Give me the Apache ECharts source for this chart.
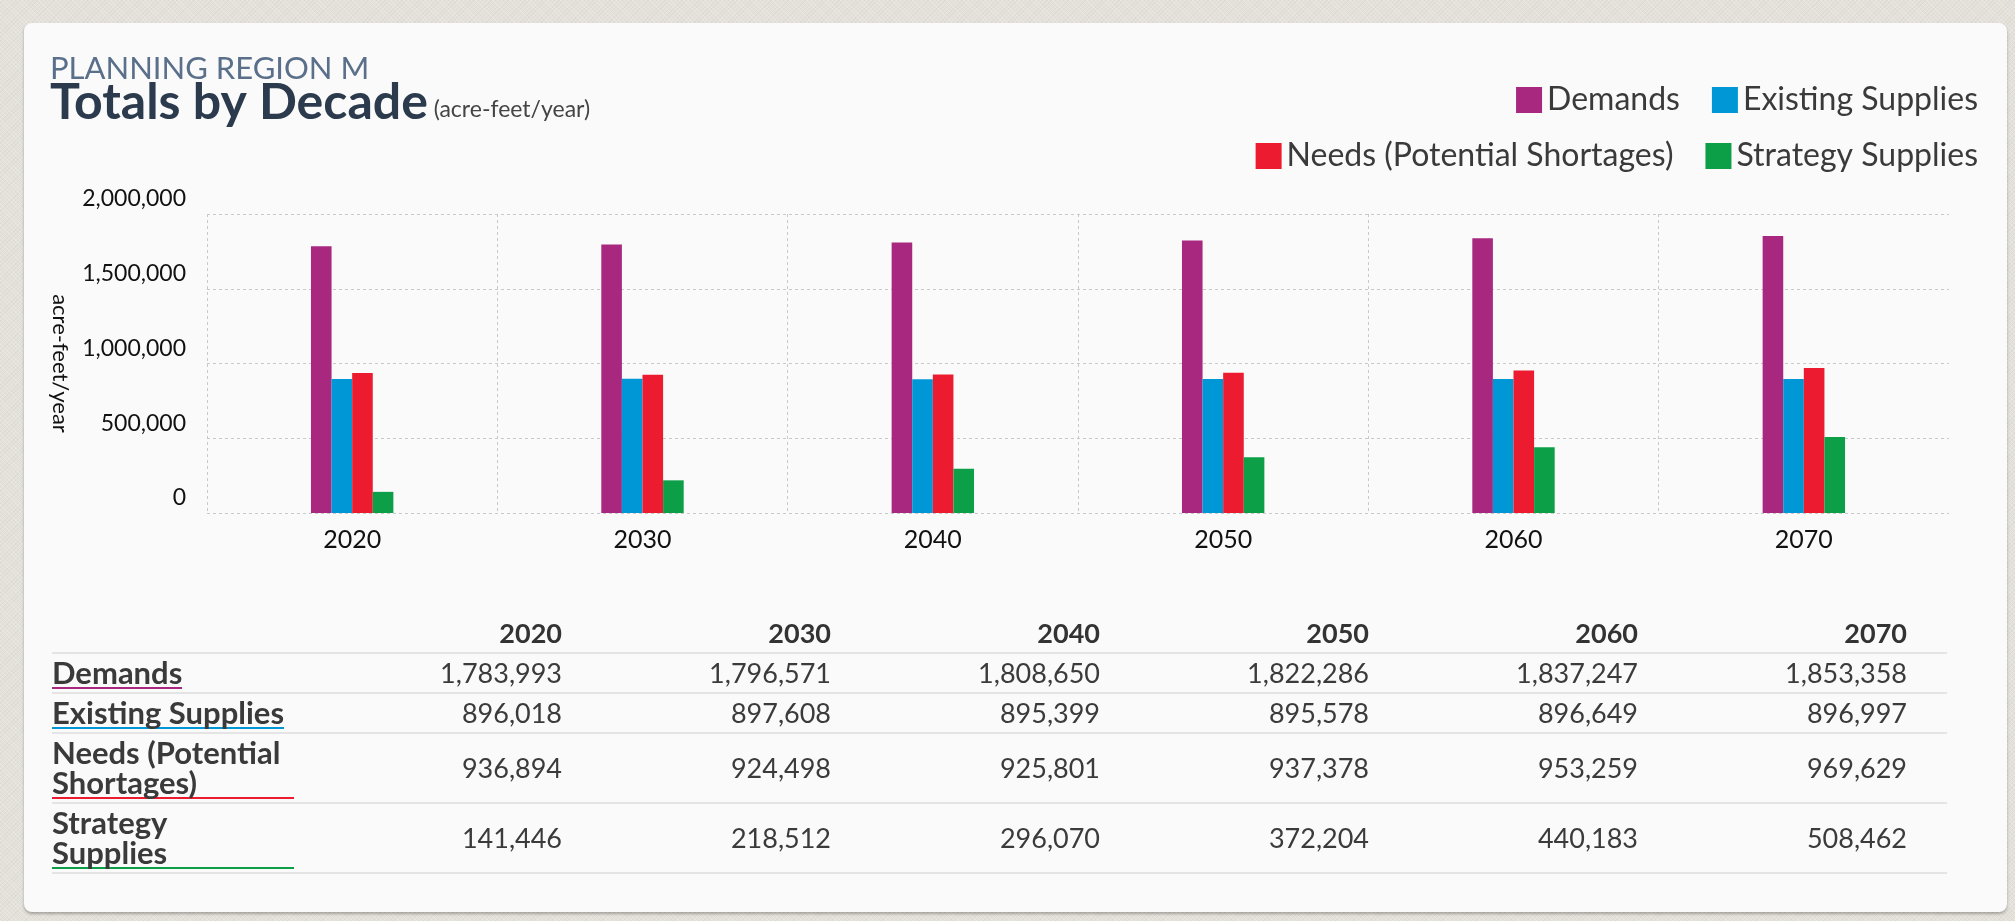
<!DOCTYPE html>
<html>
<head>
<meta charset="utf-8">
<script src="https://cdn.jsdelivr.net/npm/echarts@6/dist/echarts.min.js"></script>
<style>
  html, body { margin: 0; padding: 0; width: 2015px; height: 921px; overflow: hidden; }
  body {
    background-color: #e4e1da;
    background-image:
      repeating-linear-gradient(45deg, rgba(255,255,255,0.18) 0 1px, transparent 1px 3px),
      repeating-linear-gradient(-45deg, rgba(0,0,0,0.03) 0 1px, transparent 1px 3px);
    font-family: Lato, "Open Sans", sans-serif;
  }
  #card {
    position: absolute; left: 24px; top: 23px; width: 1983px; height: 889px;
    background: #fafafa; border-radius: 8px;
    box-shadow: 0 2px 3px rgba(0,0,0,0.28);
  }
  #chart { position: absolute; left: 0; top: 0; width: 2015px; height: 921px; }
  #tbl {
    position: absolute; left: 52px; top: 614px;
    border-collapse: collapse; color: #3b3b3b; font-family: Lato, sans-serif;
  }
  #tbl th, #tbl td { padding: 0; border-bottom: 2px solid #e4e4e4; }
  #tbl th { font-weight: bold; font-size: 27px; line-height: 30px; padding: 4px 40px 4px 0; text-align: right; color: #333; }
  #tbl th.lab { width: 281px; padding-right: 0; }
  #tbl td { font-size: 27px; line-height: 30px; text-align: right; padding: 3px 40px 3px 0; width: 229px; vertical-align: middle; }
  #tbl td.lab { text-align: left; padding-right: 0; width: 281px; }
  #tbl td.lab span {
    display: inline-block; font-weight: bold; font-size: 31px; line-height: 30px;
    white-space: pre-line; border-bottom: 2px solid #000; color: #3a3a3a;
  }
  #tbl td.lab span.wide { width: 242px; }
</style>
</head>
<body>
<div id="card"></div>
<div id="chart"></div>
<table id="tbl"></table>
<script>
// ---- data ----
const categories = ['2020', '2030', '2040', '2050', '2060', '2070'];
const seriesNames = ['Demands', 'Existing Supplies', 'Needs (Potential Shortages)', 'Strategy Supplies'];
const tableLabels = ['Demands', 'Existing Supplies', 'Needs (Potential\nShortages)', 'Strategy\nSupplies'];
const demands = [1783993, 1796571, 1808650, 1822286, 1837247, 1853358];
const existingSupplies = [896018, 897608, 895399, 895578, 896649, 896997];
const needs = [936894, 924498, 925801, 937378, 953259, 969629];
const strategySupplies = [141446, 218512, 296070, 372204, 440183, 508462];
const yMin = 0;
const yMax = 2000000;
const yInterval = 500000;
const colors = ['#a9287f', '#0097d6', '#ed1b2f', '#0c9f48'];

const allValues = [demands, existingSupplies, needs, strategySupplies];
const fmt = v => v.toLocaleString('en-US');

// ---- table ----
(function buildTable() {
  const t = document.getElementById('tbl');
  let html = '<tr><th class="lab"></th>' + categories.map(c => '<th>' + c + '</th>').join('') + '</tr>';
  tableLabels.forEach((lab, i) => {
    const cls = lab.indexOf('\n') >= 0 ? 'wide' : '';
    html += '<tr><td class="lab"><span class="' + cls + '" style="border-bottom-color:' + colors[i] + '">' + lab + '</span></td>' +
      allValues[i].map(v => '<td>' + fmt(v) + '</td>').join('') + '</tr>';
  });
  t.innerHTML = html;
})();

// ---- chart ----
const chart = echarts.init(document.getElementById('chart'), null, { renderer: 'canvas' });
const dash = { color: '#c9c9c9', width: 1, type: [3, 3] };
const option = {
  backgroundColor: 'transparent',
  animation: false,
  textStyle: { fontFamily: 'Lato' },
  title: [
    {
      text: 'PLANNING REGION M',
      left: 50, top: 53, padding: 0,
      textStyle: { fontFamily: 'Lato', fontSize: 31, fontWeight: 'normal', color: '#5a6f8a', lineHeight: 31 }
    },
    {
      text: '{b|Totals by Decade}{c| (acre-feet/year)}',
      left: 50, top: 78, padding: 0,
      textStyle: {
        rich: {
          b: { fontFamily: 'Lato', fontSize: 50, fontWeight: 'bold', color: '#2b3a4d', lineHeight: 50 },
          c: { fontFamily: 'Lato', fontSize: 23, fontWeight: 'normal', color: '#444', lineHeight: 28, padding: [0, 0, 7, 0], verticalAlign: 'bottom' }
        }
      }
    }
  ],
  legend: [
    {
      data: [seriesNames[0], seriesNames[1]],
      right: 37, top: 84, padding: 0, itemGap: 32,
      itemWidth: 26, itemHeight: 26, icon: 'rect', selectedMode: false,
      textStyle: { fontFamily: 'Lato', fontSize: 32, color: '#3a3a3a' }
    },
    {
      data: [seriesNames[2], seriesNames[3]],
      right: 37, top: 140, padding: 0, itemGap: 32,
      itemWidth: 26, itemHeight: 26, icon: 'rect', selectedMode: false,
      textStyle: { fontFamily: 'Lato', fontSize: 32, color: '#3a3a3a' }
    }
  ],
  grid: { left: 207, right: 66, top: 214, bottom: 408, containLabel: false },
  xAxis: {
    type: 'category',
    data: categories,
    axisLine: { show: false },
    axisTick: { show: false },
    axisLabel: { fontFamily: 'Lato', fontSize: 25, color: '#111', margin: 14 },
    splitLine: { show: true, showMaxLine: false, lineStyle: dash }
  },
  yAxis: {
    type: 'value',
    min: yMin, max: yMax, interval: yInterval,
    name: 'acre-feet/year',
    nameLocation: 'middle',
    nameRotate: -90,
    nameGap: 136,
    nameTextStyle: { fontFamily: 'Lato', fontSize: 22, color: '#111' },
    axisLine: { show: false },
    axisTick: { show: false },
    axisLabel: {
      fontFamily: 'Lato', fontSize: 23, color: '#111', margin: 21,
      verticalAlign: 'bottom', lineHeight: 30,
      formatter: v => fmt(v)
    },
    splitLine: { show: true, lineStyle: dash }
  },
  series: seriesNames.map((name, i) => ({
    name: name,
    type: 'bar',
    data: allValues[i],
    barWidth: 20.6,
    barGap: '0%',
    itemStyle: { color: colors[i] }
  }))
};
chart.setOption(option);
</script>
</body>
</html>
